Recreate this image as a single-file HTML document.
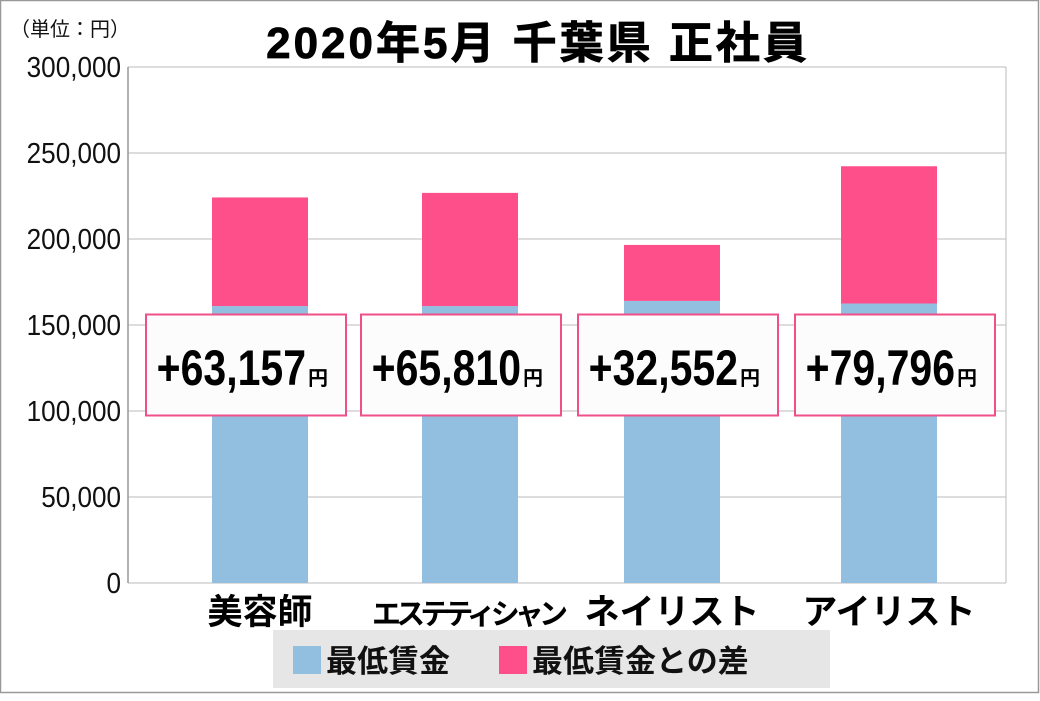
<!DOCTYPE html>
<html><head><meta charset="utf-8"><style>
body{margin:0;background:#fff;}
svg text{font-family:"Liberation Sans","Noto Sans CJK JP",sans-serif;}
</style></head><body>
<svg id="chart" width="1040" height="696" xmlns="http://www.w3.org/2000/svg">
<rect x="0.5" y="0.5" width="1038" height="692" fill="#fff" stroke="#999" stroke-width="1.5"/>
<text x="10" y="36" font-size="20" fill="#111">（単位：円）</text>
<text x="538" y="58" font-size="44" font-weight="bold" stroke="#000" stroke-width="0.8" letter-spacing="3" text-anchor="middle" fill="#000">2020年5月 千葉県 正社員</text>
<g id="grid"></g><g id="bars"></g><g id="labels"></g>
<g>
<rect x="273" y="630" width="557" height="58" fill="#e6e6e6"/>
<rect x="293" y="646" width="28" height="28" fill="#92bfe0"/>
<text x="326" y="672" font-size="31" font-weight="bold" fill="#111">最低賃金</text>
<rect x="499" y="646" width="28" height="28" fill="#ff4f8a"/>
<text x="532" y="672" font-size="31" font-weight="bold" fill="#111">最低賃金との差</text>
</g>
</svg>
<script>
const categories=["美容師","エステティシャン","ネイリスト","アイリスト"];
const minWage=[161000,161000,164000,162500];
const diff=[63157,65810,32552,79796];
const ticks=[0,50000,100000,150000,200000,250000,300000];
const tickLabels=["0","50,000","100,000","150,000","200,000","250,000","300,000"];
const NS="http://www.w3.org/2000/svg";
const X0=128,X1=1006,Y0=583,Y1=67,MAX=300000;
const y=v=>Y0-(v/MAX)*(Y0-Y1);
function mk(t,a,p){const e=document.createElementNS(NS,t);for(const k in a)e.setAttribute(k,a[k]);p.appendChild(e);return e;}
const g=document.getElementById('grid'),b=document.getElementById('bars'),l=document.getElementById('labels');
ticks.forEach((t,i)=>{
 const ln=mk('line',{x1:X0,x2:X1,y1:y(t),y2:y(t),stroke:'#bbb','stroke-width':1},g);
 
 
 const tx=mk('text',{x:0,y:0,'font-size':29,'text-anchor':'end',fill:'#111',transform:`translate(121,${y(t)+10}) scale(0.9,1)`},g);
 tx.textContent=tickLabels[i];
 
 
});
const ax=mk('line',{x1:X0,x2:X0,y1:Y1,y2:Y0,stroke:'#999','stroke-width':1.5},g);


mk('line',{x1:X1,x2:X1,y1:Y1,y2:Y0,stroke:'#bbb','stroke-width':1},g);
const centers=[260,470,672,889],boxC=[246,461,678,895];
categories.forEach((c,i)=>{
 const w=96,x=centers[i]-w/2;
 const r1=mk('rect',{x:x,y:y(minWage[i]),width:w,height:Y0-y(minWage[i]),fill:'#92bfe0'},b);
 
 
 const r2=mk('rect',{x:x,y:y(minWage[i]+diff[i]),width:w,height:y(minWage[i])-y(minWage[i]+diff[i]),fill:'#ff4f8a'},b);
 
 
 const bx=mk('rect',{x:boxC[i]-100,y:314.5,width:200,height:101,fill:'#fcfcfc',stroke:'#f0508a','stroke-width':2},l);
 
 
 const t=mk('text',{x:0,y:0,'font-size':50,'font-weight':'bold','text-anchor':'end',fill:'#000',transform:`translate(${boxC[i]+60},385) scale(0.82,1)`},l);
 t.textContent='+'+diff[i].toLocaleString('en-US');
 
 
 const u=mk('text',{x:boxC[i]+62,y:385,'font-size':20,'font-weight':'bold',fill:'#000'},l);
 u.textContent='円';
 
 
 const cl=mk('text',{x:centers[i],y:624,'font-size':i==1?29:35,'font-weight':'bold','text-anchor':'middle',fill:'#000'},l);
 cl.textContent=c;
 if(i==1)cl.setAttribute('textLength','196');
 
 
});
</script>
</body></html>
